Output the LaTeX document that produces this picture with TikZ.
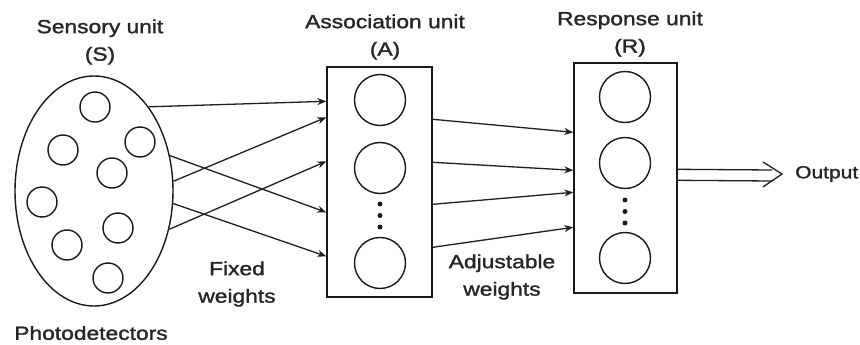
\documentclass[tikz,border=0pt]{standalone}
\usepackage{fontspec}
\setmainfont[FakeStretch=1.2]{Liberation Sans}
\newfontfamily\lblfont[FakeStretch=1.2,FakeBold=1.5]{Liberation Sans}
\usetikzlibrary{shapes.geometric,arrows.meta}

\begin{document}
\begin{tikzpicture}[x=1pt,y=-1pt,
  ink/.style={draw=black!90, line width=1.4pt},
  unitbox/.style={ink, rectangle, inner sep=0pt},
  detector/.style={ink, circle, minimum size=30pt, inner sep=0pt},
  neuron/.style={ink, circle, minimum size=51pt, inner sep=0pt},
  dot/.style={circle, fill=black!90, minimum size=5pt, inner sep=0pt},
  wire/.style={draw=black!88, line width=1.3pt, -{Stealth[length=9pt,width=7pt]}},
  shaft/.style={draw=black!88, line width=1.3pt},
  label/.style={align=center, text=black!85, font=\lblfont\fontsize{19}{27.5}\selectfont}
]
\useasboundingbox[fill=white] (0,0) rectangle (860,345);

% sensory unit with its photodetectors
\node[ink, ellipse, minimum width=158pt, minimum height=230pt, inner sep=0pt] (S) at (94,191) {};
\node[detector] (s1) at (95,107) {};
\node[detector] (s2) at (63,150) {};
\node[detector] (s3) at (140,142) {};
\node[detector] (s4) at (112,173) {};
\node[detector] (s5) at (42,202) {};
\node[detector] (s6) at (118,228) {};
\node[detector] (s7) at (67,245) {};
\node[detector] (s8) at (108,278) {};

% association unit
\node[unitbox, minimum width=105pt, minimum height=230pt] (A) at (379.5,182) {};
\node[neuron] (a1) at (380,100) {};
\node[neuron] (a2) at (380,168) {};
\node[neuron] (a3) at (380,263) {};
\node[dot] (ad1) at (380,204) {};
\node[dot] (ad2) at (380,215.5) {};
\node[dot] (ad3) at (380,227) {};

% response unit
\node[unitbox, minimum width=103pt, minimum height=230pt] (R) at (625.5,178) {};
\node[neuron] (r1) at (625,97) {};
\node[neuron] (r2) at (625,163) {};
\node[neuron] (r3) at (625,258) {};
\node[dot] (rd1) at (625,200) {};
\node[dot] (rd2) at (625,211.5) {};
\node[dot] (rd3) at (625,223) {};

% fixed weights: sensory -> association
\draw[wire] (S.57)  -- ([yshift=-35pt]A.north west);
\draw[wire] (S.7)   -- ([yshift=-51pt]A.north west);
\draw[wire] (S.25)  -- ([yshift=-146pt]A.north west);
\draw[wire] (S.-27) -- ([yshift=-95pt]A.north west);
\draw[wire] (S.-9)  -- ([yshift=-190pt]A.north west);

% adjustable weights: association -> response
\draw[wire] ([yshift=-53pt]A.north east)  -- ([yshift=-70pt]R.north west);
\draw[wire] ([yshift=-96pt]A.north east)  -- ([yshift=-108pt]R.north west);
\draw[wire] ([yshift=-138pt]A.north east) -- ([yshift=-130pt]R.north west);
\draw[wire] ([yshift=-181pt]A.north east) -- ([yshift=-165pt]R.north west);

% output: double shaft with open head
\coordinate (otip) at (782,174);
\draw[shaft] ([yshift=-107pt]R.north east) -- ([xshift=-10pt,yshift=4pt]otip);
\draw[shaft] ([yshift=-118pt]R.north east) -- ([xshift=-10pt,yshift=-7pt]otip);
\draw[shaft, line join=miter] ([xshift=-19pt,yshift=12pt]otip) -- (otip) -- ([xshift=-19pt,yshift=-13pt]otip);

% labels
\node[label] (lS) at (100,42) {Sensory unit\\(S)};
\node[label] (lA) at (385,37) {Association unit\\(A)};
\node[label] (lR) at (630,34) {Response unit\\(R)};
\node[label] (lF) at (237,284) {Fixed\\weights};
\node[label] (lW) at (502,277) {Adjustable\\weights};
\node[label] (lP) at (91,333) {Photodetectors};
\node[label, anchor=west, inner sep=0pt, font=\lblfont\fontsize{17.5}{27}\selectfont] (lO) at ([xshift=13pt]otip) {Output};
\end{tikzpicture}
\end{document}
